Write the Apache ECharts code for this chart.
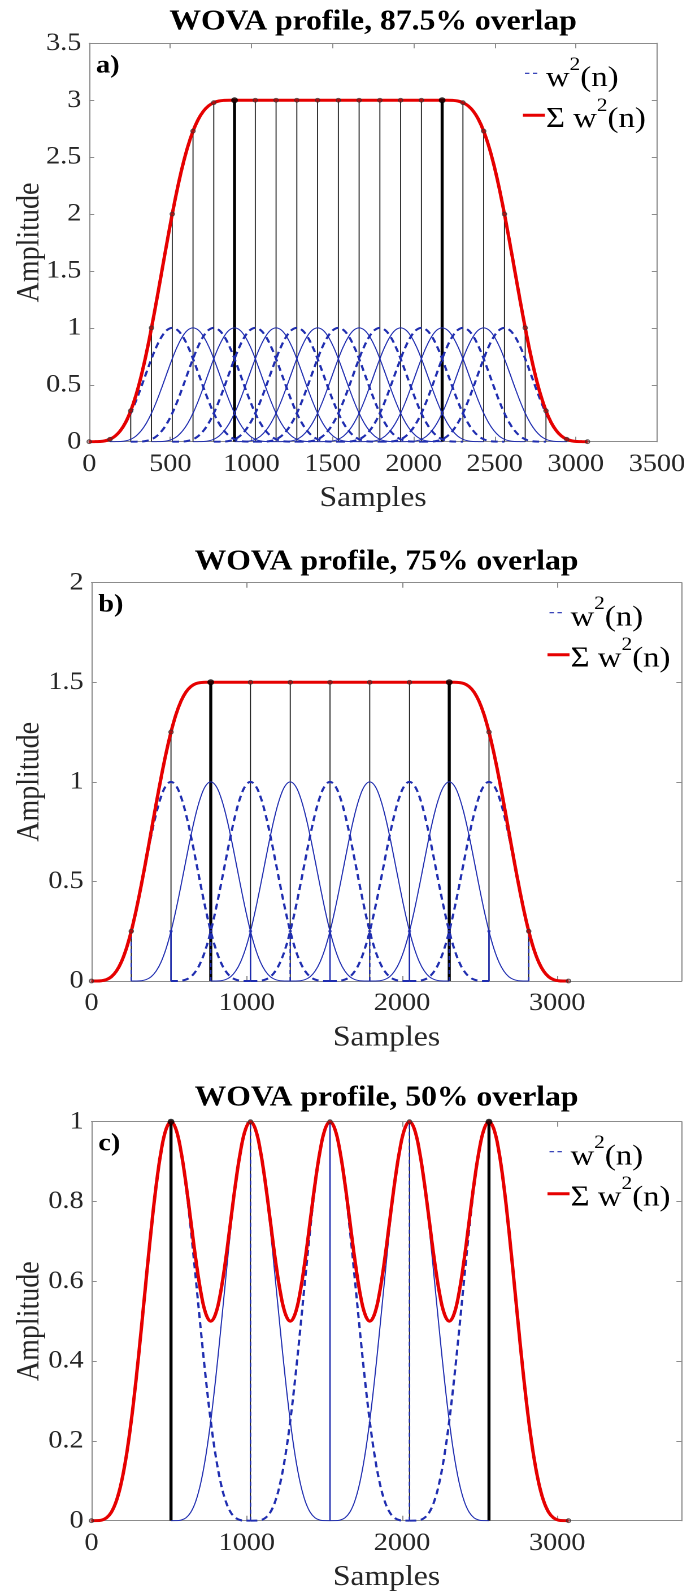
<!DOCTYPE html>
<html>
<head>
<meta charset="utf-8">
<script src="https://cdn.jsdelivr.net/npm/echarts@6/dist/echarts.min.js"></script>
<style>
  html, body { margin: 0; padding: 0; background: #fff; overflow: hidden; }
  #chart { width: 609.73px; height: 1591px; transform: scaleX(1.13); transform-origin: 0 0; }
</style>
</head>
<body>
<div id="chart"></div>
<script>
// Squared Hann window w²(n), one value every 32 samples over its 1024-sample length
const windowStep = 32;
const windowShape = [0, 0.0001, 0.0014, 0.0071, 0.0214, 0.0494, 0.0953, 0.1620, 0.2500, 0.3571, 0.4780,
  0.6050, 0.7286, 0.8386, 0.9253, 0.9809, 1, 0.9809, 0.9253, 0.8386, 0.7286, 0.6050, 0.4780, 0.3571,
  0.2500, 0.1620, 0.0953, 0.0494, 0.0214, 0.0071, 0.0014, 0.0001, 0];

const titles = ['WOVA profile, 87.5% overlap', 'WOVA profile, 75% overlap', 'WOVA profile, 50% overlap'];
const panelTags = ['a)', 'b)', 'c)'];

// Window start samples and their line style (1 = dashed, 0 = solid)
const startsA = [0, 128, 256, 384, 512, 640, 768, 896, 1024, 1152, 1280, 1408, 1536, 1664, 1792, 1920, 2048];
const dashedA = [1, 0, 1, 0, 1, 0, 1, 0, 1, 0, 1, 0, 1, 0, 1, 0, 1];
const startsB = [0, 256, 512, 768, 1024, 1280, 1536, 1792, 2048];
const dashedB = [1, 0, 1, 0, 1, 0, 1, 0, 1];
const startsC = [0, 512, 1024, 1536, 2048];
const dashedC = [1, 0, 1, 0, 1];

// Frame positions where the summed profile is stemmed
const stemsA = [0, 128, 256, 384, 512, 640, 768, 896, 1024, 1152, 1280, 1408, 1536, 1664, 1792, 1920,
  2048, 2176, 2304, 2432, 2560, 2688, 2816, 2944, 3072];
const stemsB = [0, 256, 512, 768, 1024, 1280, 1536, 1792, 2048, 2304, 2560, 2816, 3072];
const stemsC = [0, 512, 1024, 1536, 2048, 2560, 3072];
const boldStemsA = [896, 2176];
const boldStemsB = [768, 2304];
const boldStemsC = [512, 2560];

// Blue window stems
const windowStemXB = [256, 512, 768, 1024, 1280, 1536, 1792, 2048, 2304, 2560, 2816];
const windowStemHB = [0.25, 0.25, 0.25, 0.25, 0.25, 0.25, 0.25, 0.25, 0.25, 0.25, 0.25];
const windowStemDashB = [1, 0, 1, 0, 1, 0, 1, 0, 1, 0, 1];
const windowStemXC = [1024, 1536, 2048];
const windowStemHC = [1, 1, 1];
const windowStemDashC = [1, 0, 1];

// Axis ranges and tick steps
const xMaxes = [3500, 3800, 3800];
const xSteps = [500, 1000, 1000];
const yMaxes = [3.5, 2, 1];
const ySteps = [0.5, 0.5, 0.2];

const panelData = [
  { starts: startsA, dashed: dashedA, stems: stemsA, bold: boldStemsA, wx: [], wh: [], wd: [] },
  { starts: startsB, dashed: dashedB, stems: stemsB, bold: boldStemsB, wx: windowStemXB, wh: windowStemHB, wd: windowStemDashB },
  { starts: startsC, dashed: dashedC, stems: stemsC, bold: boldStemsC, wx: windowStemXC, wh: windowStemHC, wd: windowStemDashC }
];

// ---- layout (page pixels; x is divided by the horizontal stretch) ----
const SX = 1.13;
const FONT = 'Liberation Serif';
const layout = [
  { L: 89.2, R: 656.9, T: 43.3, B: 441.7, titleY: 22.2 },
  { L: 91.5, R: 681.5, T: 582.7, B: 981.0, titleY: 562.5 },
  { L: 91.5, R: 681.5, T: 1121.7, B: 1520.7, titleY: 1098.3 }
];
const AX = '#8c8c8c';
const BLUE = '#1f2db0';
const RED = '#e60000';
const LABEL = '#262626';

function windowCurve(start) {
  return windowShape.map((v, i) => [start + i * windowStep, v]);
}
function sumCurve(starts) {
  const end = starts[starts.length - 1] + (windowShape.length - 1) * windowStep;
  const pts = [];
  for (let n = 0; n <= end; n += windowStep) {
    let s = 0;
    starts.forEach(st => {
      const k = (n - st) / windowStep;
      if (k >= 0 && k < windowShape.length) s += windowShape[k];
    });
    pts.push([n, Math.round(s * 10000) / 10000]);
  }
  return pts;
}

function stemSeries(idx, data, color, width, z, dashFlags) {
  return {
    type: 'custom', xAxisIndex: 2 * idx, yAxisIndex: 2 * idx, z: z, silent: true, clip: true,
    data: data,
    encode: { x: 0, y: 1 },
    renderItem: function (params, api) {
      const x = api.value(0), h = api.value(1);
      const p0 = api.coord([x, 0]);
      const p1 = api.coord([x, h]);
      const dashed = dashFlags ? dashFlags[params.dataIndex] : 0;
      return {
        type: 'line',
        shape: { x1: p0[0], y1: p0[1], x2: p1[0], y2: p1[1] },
        style: { stroke: color, lineWidth: width, lineDash: dashed ? [4, 3] : null }
      };
    }
  };
}

// legend text with a raised exponent
const legendRich = {
  b: { fontFamily: FONT, fontSize: 29, lineHeight: 46, color: '#000' },
  s: { fontFamily: FONT, fontSize: 19, verticalAlign: 'top', color: '#000' }
};

const grids = [], xAxes = [], yAxes = [], series = [], graphics = [];

layout.forEach((lay, i) => {
  const pd = panelData[i];
  grids.push({ left: lay.L / SX, top: lay.T, width: (lay.R - lay.L) / SX, height: lay.B - lay.T,
    containLabel: false, outerBoundsMode: 'none' });

  const xBase = { gridIndex: i, type: 'value', min: 0, max: xMaxes[i], interval: xSteps[i],
    splitLine: { show: false },
    axisLine: { show: true, onZero: false, lineStyle: { color: AX, width: 1 } },
    axisTick: { show: true, inside: true, length: 5, lineStyle: { color: AX, width: 1 } } };
  xAxes.push(Object.assign({}, xBase, { position: 'bottom',
    axisLabel: { show: true, margin: 10, fontFamily: FONT, fontSize: 25, color: LABEL,
      formatter: v => (Math.abs(v % xSteps[i]) < 1e-6 ? String(v) : '') } }));
  xAxes.push(Object.assign({}, xBase, { position: 'top', axisLabel: { show: false } }));

  const yBase = { gridIndex: i, type: 'value', min: 0, max: yMaxes[i], interval: ySteps[i],
    splitLine: { show: false },
    axisLine: { show: true, onZero: false, lineStyle: { color: AX, width: 1 } },
    axisTick: { show: true, inside: true, length: 4.5, lineStyle: { color: AX, width: 1 } } };
  yAxes.push(Object.assign({}, yBase, { position: 'left',
    axisLabel: { show: true, margin: 7, fontFamily: FONT, fontSize: 25, color: LABEL,
      formatter: v => String(Math.round(v * 100) / 100) } }));
  yAxes.push(Object.assign({}, yBase, { position: 'right', axisLabel: { show: false } }));

  const sum = sumCurve(pd.starts);
  const sumAt = x => { const p = sum.find(q => q[0] === x); return p ? p[1] : 0; };

  // thin and bold black stems of the summed profile
  const thin = pd.stems.filter(x => pd.bold.indexOf(x) < 0).map(x => [x, sumAt(x)]);
  const bold = pd.bold.map(x => [x, sumAt(x)]);
  series.push(stemSeries(i, thin, '#1a1a1a', 0.9, 1));
  series.push(stemSeries(i, bold, '#000', 2.7, 1));

  // individual squared windows
  pd.starts.forEach((st, k) => {
    series.push({
      type: 'line', xAxisIndex: 2 * i, yAxisIndex: 2 * i, z: 2, silent: true,
      data: windowCurve(st), smooth: 0.4, showSymbol: false,
      lineStyle: pd.dashed[k] ? { color: BLUE, width: 2, type: [6, 4] } : { color: BLUE, width: 1 }
    });
  });

  // window stems in blue
  if (pd.wx.length) {
    const wdata = pd.wx.map((x, k) => [x, pd.wh[k]]);
    series.push(stemSeries(i, wdata, BLUE, 1.3, 3, pd.wd));
    series.push({ type: 'scatter', xAxisIndex: 2 * i, yAxisIndex: 2 * i, z: 3, silent: true,
      data: wdata, symbol: 'circle', symbolSize: 3, itemStyle: { color: BLUE } });
  }

  // summed profile
  series.push({
    type: 'line', xAxisIndex: 2 * i, yAxisIndex: 2 * i, z: 4, silent: true,
    data: sum, smooth: 0.4, showSymbol: false,
    lineStyle: { color: RED, width: 3 }
  });

  // stem heads
  series.push({ type: 'scatter', xAxisIndex: 2 * i, yAxisIndex: 2 * i, z: 5, silent: true,
    data: thin, symbol: 'circle', symbolSize: 4,
    itemStyle: { color: 'rgba(110,30,30,0.55)', borderColor: '#333', borderWidth: 0.8 } });
  series.push({ type: 'scatter', xAxisIndex: 2 * i, yAxisIndex: 2 * i, z: 5, silent: true,
    data: bold, symbol: 'circle', symbolSize: 6, itemStyle: { color: '#000' } });

  // texts
  const cx = (lay.L + lay.R) / 2 / SX;
  const cy = (lay.T + lay.B) / 2;
  graphics.push({ type: 'text', x: cx, y: lay.titleY, z: 10,
    style: { text: titles[i], fontFamily: FONT, fontSize: 28, fontWeight: 'bold', fill: '#000',
      align: 'center', verticalAlign: 'middle' } });
  graphics.push({ type: 'text', x: (lay.L + 6.8) / SX, y: lay.T + 22.5, z: 10,
    style: { text: panelTags[i], fontFamily: FONT, fontSize: 25, fontWeight: 'bold', fill: '#000',
      align: 'left', verticalAlign: 'middle' } });
  graphics.push({ type: 'text', x: cx, y: lay.B + 57, z: 10,
    style: { text: 'Samples', fontFamily: FONT, fontSize: 28, fill: LABEL,
      align: 'center', verticalAlign: 'middle' } });
  graphics.push({ type: 'text', x: 30 / SX, y: cy, rotation: Math.PI / 2, z: 10,
    style: { text: 'Amplitude', fontFamily: FONT, fontSize: 28, fill: LABEL,
      align: 'center', verticalAlign: 'middle' } });

  // legend
  graphics.push({ type: 'line', z: 10,
    shape: { x1: (lay.R - 132) / SX, y1: lay.T + 30, x2: (lay.R - 117) / SX, y2: lay.T + 30 },
    style: { stroke: BLUE, lineWidth: 1.2, lineDash: [4, 3] } });
  graphics.push({ type: 'line', z: 10,
    shape: { x1: (lay.R - 134) / SX, y1: lay.T + 72, x2: (lay.R - 112) / SX, y2: lay.T + 72 },
    style: { stroke: RED, lineWidth: 3 } });
  graphics.push({ type: 'text', x: (lay.R - 111) / SX, y: lay.T + 35, z: 10,
    style: { text: '{b|w}{s|2}{b|(n)}', rich: legendRich, align: 'left', verticalAlign: 'middle' } });
  graphics.push({ type: 'text', x: (lay.R - 111) / SX, y: lay.T + 76, z: 10,
    style: { text: '{b|Σ w}{s|2}{b|(n)}', rich: legendRich, align: 'left', verticalAlign: 'middle' } });
});

const chart = echarts.init(document.getElementById('chart'), null, { renderer: 'canvas', devicePixelRatio: 2 });
chart.setOption({
  backgroundColor: '#fff',
  animation: false,
  grid: grids,
  xAxis: xAxes,
  yAxis: yAxes,
  series: series,
  graphic: graphics
});
</script>
</body>
</html>
